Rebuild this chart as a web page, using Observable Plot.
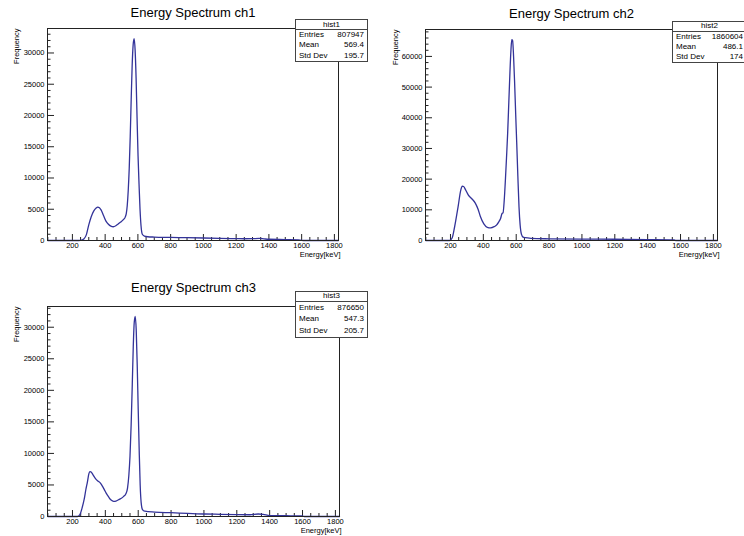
<!DOCTYPE html>
<html><head><meta charset="utf-8">
<script src="https://cdn.jsdelivr.net/npm/d3@7"></script>
<script src="https://cdn.jsdelivr.net/npm/@observablehq/plot@0.6"></script>
<style>
body{margin:0;background:#fff;}
#root{position:relative;width:744px;height:536px;overflow:hidden;background:#fff;font-family:"Liberation Sans",Arial,sans-serif;color:#000;}
#root svg{position:absolute;}
.stat{position:absolute;background:#fff;border:1px solid #444;box-sizing:border-box;font-size:8px;z-index:2;}
.stat .hd{text-align:center;border-bottom:1px solid #444;box-sizing:border-box;}
.stat .row{display:flex;justify-content:space-between;padding:0 3px 0 3px;}
</style></head>
<body><div id="root"></div>
<script>
// ---- data ----
const xDomain = [48, 1825];
const xMajor = [200, 400, 600, 800, 1000, 1200, 1400, 1600, 1800];

const titles = ["Energy Spectrum ch1", "Energy Spectrum ch2", "Energy Spectrum ch3"];
const xLabel = "Energy[keV]";
const yLabel = "Frequency";

const ch1E = [50,240,255,270,285,300,315,330,345,355,365,375,390,405,420,435,450,465,480,495,510,522,529,535,541,547,553,559,565,571,577,583,589,595,601,607,613,619,627,640,660,700,800,900,1000,1100,1200,1250,1300,1340,1370,1400,1500,1580,1600,1610,1825];
const ch1N = [0,0,50,250,900,2500,3800,4700,5200,5350,5250,4900,4000,3100,2600,2300,2200,2350,2650,2950,3300,3700,4300,5600,8000,11500,16500,22500,28000,31300,32300,30500,26000,19500,13500,9000,5000,2400,1000,700,600,550,500,450,400,350,300,280,300,330,260,200,150,100,20,0,0];

const ch2E = [50,195,210,225,246,263,272,280,292,309,330,351,368,382,403,424,445,466,480,493,505,514,520,527,534,541,548,555,562,568,573,578,584,590,597,603,610,617,624,632,642,655,690,800,1000,1200,1400,1560,1570,1825];
const ch2N = [0,0,800,4400,10900,16500,17700,17600,16500,14800,13600,12200,10200,7800,5400,4300,4100,4500,5000,6000,7200,8800,9000,13000,19500,27000,35000,45000,55000,62000,65500,65200,60000,52000,41000,32000,21000,11000,5000,2000,1100,900,700,550,450,400,300,200,0,0];

const ch3E = [50,230,245,260,271,281,291,300,307,315,325,340,356,370,380,393,405,420,435,450,465,480,495,510,525,535,543,550,557,564,570,576,582,588,594,600,606,612,618,626,640,700,800,900,1000,1100,1200,1280,1330,1360,1400,1500,1600,1610,1825];
const ch3N = [0,0,300,1500,2700,4200,5500,6800,7100,7000,6600,6000,5600,5300,4900,4300,3700,3100,2600,2400,2450,2650,2850,3150,3600,4500,6500,9500,14500,21000,27000,30800,31700,29500,24000,17000,10500,5000,2200,1100,850,700,600,500,400,350,300,280,400,350,150,120,80,0,0];

const yMajor1 = [0, 5000, 10000, 15000, 20000, 25000, 30000];
const yMajor2 = [0, 10000, 20000, 30000, 40000, 50000, 60000];
const yMajor3 = [0, 5000, 10000, 15000, 20000, 25000, 30000];

const statNames = ["hist1", "hist2", "hist3"];
const statLabels = ["Entries", "Mean", "Std Dev"];
const stat1 = ["807947", "569.4", "195.7"];
const stat2 = ["1860604", "486.1", "174"];
const stat3 = ["876650", "547.3", "205.7"];

// ---- layout ----
const panels = [
  {E: ch1E, N: ch1N, yMajor: yMajor1, minorStep: 1000, title: titles[0], name: statNames[0], stats: stat1,
   pos: [0, 0], m: {top: 28, right: 34, bottom: 28, left: 47}, titleDy: -16, yLabDx: -31,
   box: {left: 295, top: 19, width: 73, height: 43, hd: 10}},
  {E: ch2E, N: ch2N, yMajor: yMajor2, minorStep: 2000, title: titles[1], name: statNames[1], stats: stat2,
   pos: [372, 0], m: {top: 29, right: 27, bottom: 28, left: 53}, titleDy: -16, yLabDx: -30,
   box: {left: 672, top: 21, width: 75, height: 42, hd: 9.5}},
  {E: ch3E, N: ch3N, yMajor: yMajor3, minorStep: 1000, title: titles[2], name: statNames[2], stats: stat3,
   pos: [0, 268], m: {top: 38, right: 33, bottom: 20, left: 47}, titleDy: -19, yLabDx: -31,
   box: {left: 295, top: 291, width: 73, height: 47, hd: 9.5}}
];

const root = document.getElementById("root");
const W = 372, H = 268;
const ink = "#222";

for (const p of panels) {
  const data = p.E.map((e, i) => ({e, n: p.N[i]}));
  const ymax = d3.max(p.N) * 1.05;
  const fh = H - p.m.top - p.m.bottom;
  const fw = W - p.m.left - p.m.right;
  const xMinor = d3.range(50, xDomain[1], 50).filter(v => !xMajor.includes(v));
  const yMinor = d3.range(0, ymax, p.minorStep).filter(v => !p.yMajor.includes(v));
  const svg = Plot.plot({
    width: W, height: H,
    marginTop: p.m.top, marginRight: p.m.right, marginBottom: p.m.bottom, marginLeft: p.m.left,
    x: {domain: xDomain},
    y: {domain: [0, ymax]},
    style: {fontFamily: "'Liberation Sans', Arial, sans-serif", fontSize: "7.5px", background: "transparent", color: "#000", overflow: "visible"},
    marks: [
      Plot.axisX(xMajor, {tickSize: 0, tickPadding: 2, tickFormat: d => String(d), label: null, fontSize: 7.5}),
      Plot.axisY(p.yMajor, {tickSize: 0, tickPadding: 3, tickFormat: d => String(d), label: null, fontSize: 7.5}),
      Plot.tickX(xMajor, {x: d => d, insetTop: fh - 6, stroke: ink}),
      Plot.tickX(xMinor, {x: d => d, insetTop: fh - 3, stroke: ink}),
      Plot.tickY(p.yMajor, {y: d => d, insetRight: fw - 7, stroke: ink}),
      Plot.tickY(yMinor, {y: d => d, insetRight: fw - 3.5, stroke: ink}),
      Plot.line(data, {x: "e", y: "n", stroke: "#333399", strokeWidth: 1.3, curve: "monotone-x"}),
      Plot.frame({stroke: ink}),
      Plot.text([p.title], {frameAnchor: "top", dy: p.titleDy, fontSize: 13, lineAnchor: "middle"}),
      Plot.text([xLabel], {frameAnchor: "bottom-right", dx: 2, dy: 14.5, textAnchor: "end", lineAnchor: "middle", fontSize: 7.5}),
      Plot.text([yLabel], {frameAnchor: "top-left", rotate: -90, textAnchor: "end", lineAnchor: "middle", dx: p.yLabDx, fontSize: 7.5})
    ]
  });
  svg.style.left = p.pos[0] + "px";
  svg.style.top = p.pos[1] + "px";
  root.appendChild(svg);

  const b = p.box;
  const box = document.createElement("div");
  box.className = "stat";
  Object.assign(box.style, {left: b.left + "px", top: b.top + "px", width: b.width + "px", height: b.height + "px"});
  const hd = document.createElement("div");
  hd.className = "hd";
  hd.style.height = b.hd + "px";
  hd.style.lineHeight = (b.hd - 1) + "px";
  hd.textContent = p.name;
  box.appendChild(hd);
  const rowH = (b.height - 2 - b.hd) / statLabels.length;
  statLabels.forEach((lab, i) => {
    const r = document.createElement("div");
    r.className = "row";
    r.style.height = rowH + "px";
    r.style.lineHeight = rowH + "px";
    const a = document.createElement("span"); a.textContent = lab;
    const v = document.createElement("span"); v.textContent = p.stats[i];
    r.appendChild(a); r.appendChild(v);
    box.appendChild(r);
  });
  root.appendChild(box);
}
</script>
</body></html>
